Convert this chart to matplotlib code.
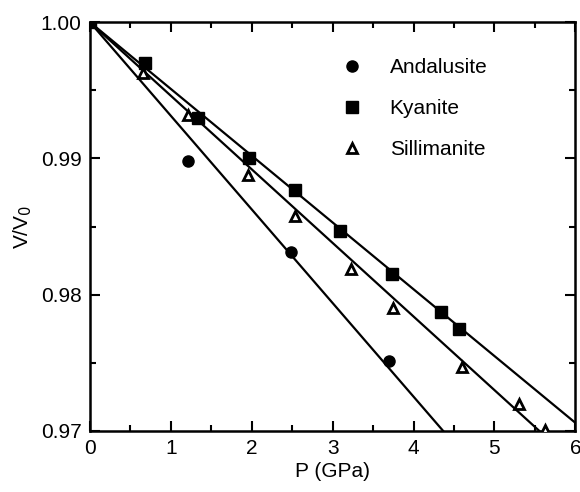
import matplotlib
matplotlib.use("Agg")
import matplotlib.pyplot as plt
from matplotlib.ticker import MultipleLocator, FormatStrFormatter
import numpy as np

plt.rcParams['font.family'] = ['Liberation Sans', 'DejaVu Sans']

# Datos
andalusite_p = [0.0, 1.21, 2.49, 3.70]
andalusite_v = [1.000, 0.9898, 0.9831, 0.9751]
kyanite_p = [0.0, 0.68, 1.34, 1.97, 2.54, 3.09, 3.73, 4.34, 4.56]
kyanite_v = [1.000, 0.9970, 0.9930, 0.9900, 0.9877, 0.9847, 0.9815, 0.9787, 0.9775]
sillimanite_p = [0.66, 1.21, 1.95, 2.53, 3.23, 3.74, 4.60, 5.30, 5.63]
sillimanite_v = [0.9963, 0.9932, 0.9888, 0.9858, 0.9819, 0.9790, 0.9747, 0.9720, 0.9701]

# Pendientes de los ajustes lineales (1/GPa)
fit_slopes = {"Andalusite": -0.00687, "Kyanite": -0.00490, "Sillimanite": -0.00540}

fig = plt.figure(figsize=(5.8, 4.92), dpi=100)
ax = fig.add_axes([0.155, 0.124, 0.837, 0.831])

# Lineas de ajuste
p = np.linspace(0, 6, 100)
for name, s in fit_slopes.items():
    ax.plot(p, 1 + s * p, color="black", lw=1.6, zorder=2)

ax.plot(andalusite_p, andalusite_v, "o", color="black", ms=8, ls="none",
        label="Andalusite", zorder=3)
ax.plot(kyanite_p, kyanite_v, "s", color="black", ms=8, ls="none",
        label="Kyanite", zorder=3)
ax.plot(sillimanite_p, sillimanite_v, "^", mfc="white", mec="black", mew=2,
        ms=7, ls="none", label="Sillimanite", zorder=3)

ax.set_xlim(0, 6)
ax.set_ylim(0.97, 1.00)
ax.xaxis.set_major_locator(MultipleLocator(1))
ax.xaxis.set_minor_locator(MultipleLocator(0.5))
ax.yaxis.set_major_locator(MultipleLocator(0.01))
ax.yaxis.set_minor_locator(MultipleLocator(0.005))
ax.yaxis.set_major_formatter(FormatStrFormatter("%.2f"))

ax.tick_params(which="both", direction="in", top=True, right=True,
               labelsize=15, width=1.5, pad=6)
ax.tick_params(which="major", length=7)
ax.tick_params(which="minor", length=4.5)
for sp in ax.spines.values():
    sp.set_linewidth(1.8)

ax.set_xlabel("P (GPa)", fontsize=15, labelpad=3)
ax.set_ylabel("V/V$_0$", fontsize=15, labelpad=5)

ax.legend(loc="upper left", bbox_to_anchor=(0.48, 0.958), frameon=False,
          fontsize=15, handletextpad=1.3, labelspacing=1.05, handlelength=1.0)

fig.savefig("out.png", dpi=100)
